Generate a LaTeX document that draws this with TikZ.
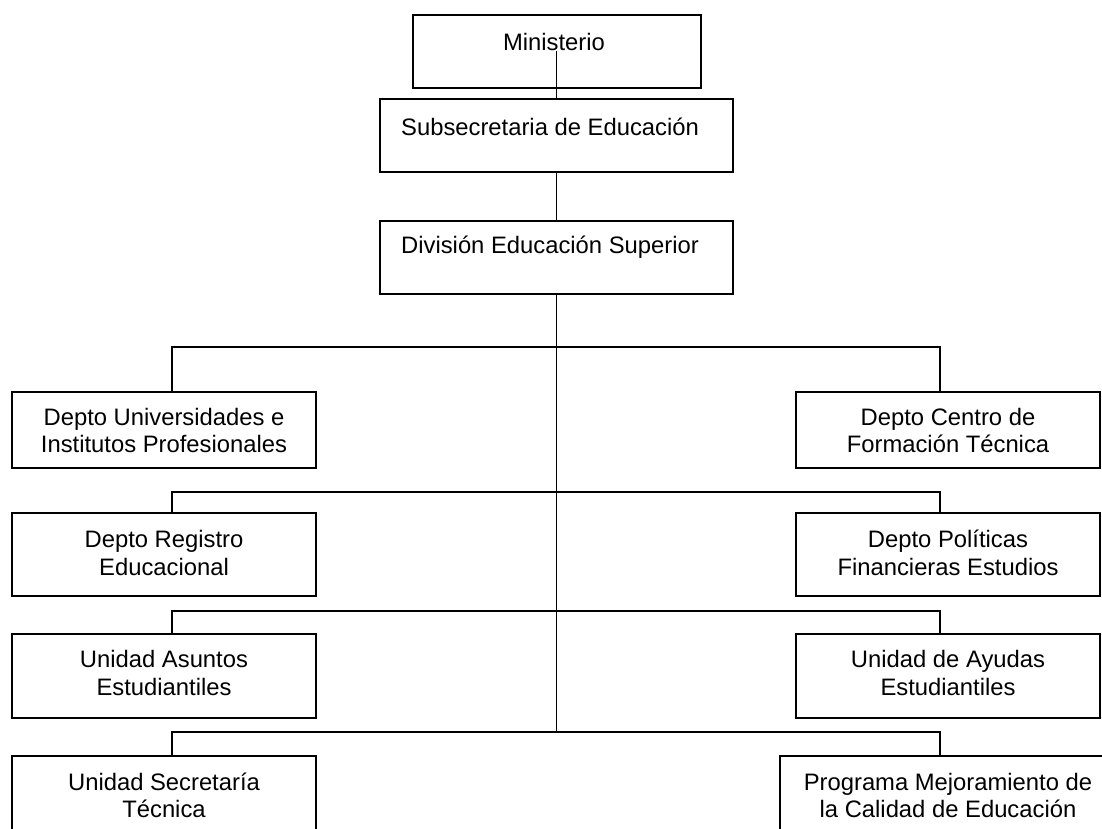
\documentclass[tikz,border=0pt]{standalone}
\usepackage{fontspec}
\setmainfont{Liberation Sans}
\begin{document}
\begin{tikzpicture}[x=1pt,y=-1pt,
  box/.style={draw=black, line width=1.8pt, rectangle, inner sep=0pt},
  lbl/.style={inner sep=0pt, align=center, font=\fontsize{23.8}{27.5}\selectfont},
  con/.style={draw=black, line width=1.8pt}]
\useasboundingbox[fill=white] (0,0) rectangle (1102,829);

% top chain
\node[box, minimum width=288, minimum height=73] (min) at (557,51.5) {};
\node[lbl] (mint) at (554,42) {Ministerio};
\node[box, minimum width=353, minimum height=73] (sub) at (556.5,135.5) {};
\node[lbl] (subt) at (550,127) {Subsecretaria de Educación};
\node[box, minimum width=353, minimum height=73] (div) at (556.5,257.5) {};
\node[lbl] (divt) at (550,247) {División Educación Superior};

% left column
\node[box, minimum width=304, minimum height=76] (l1) at (164,430) {};
\node[lbl] (l1t) at (164,430.5) {Depto Universidades e\\Institutos Profesionales};
\node[box, minimum width=304, minimum height=83] (l2) at (164,554.5) {};
\node[lbl] (l2t) at (164,553) {Depto Registro\\Educacional};
\node[box, minimum width=304, minimum height=84] (l3) at (164,676) {};
\node[lbl] (l3t) at (164,673) {Unidad Asuntos\\Estudiantiles};
\node[box, minimum width=304, minimum height=90] (l4) at (164,801) {};
\node[lbl] (l4t) at (164,795.5) {Unidad Secretaría\\Técnica};

% right column
\node[box, minimum width=304, minimum height=76] (r1) at (948,430) {};
\node[lbl] (r1t) at (948,430.5) {Depto Centro de\\Formación Técnica};
\node[box, minimum width=304, minimum height=83] (r2) at (948,554.5) {};
\node[lbl] (r2t) at (948,553) {Depto Políticas\\Financieras Estudios};
\node[box, minimum width=304, minimum height=84] (r3) at (948,676) {};
\node[lbl] (r3t) at (948,673) {Unidad de Ayudas\\Estudiantiles};
\node[box, minimum width=336, minimum height=90] (r4) at (948,801) {};
\node[lbl] (r4t) at (948,795.5) {Programa Mejoramiento de\\la Calidad de Educación};

% bus coordinates
\coordinate (a1) at (172,347); \coordinate (b1) at (940,347);
\coordinate (a2) at (172,492); \coordinate (b2) at (940,492);
\coordinate (a3) at (172,611); \coordinate (b3) at (940,611);
\coordinate (a4) at (172,732); \coordinate (b4) at (940,732);
\coordinate (m4) at (556.5,732);

% connectors
\draw[con] (sub.north |- mint.south) -- (sub.north);
\draw[con] (sub.south) -- (div.north);
\draw[con] (div.south) -- (m4);
\draw[con] (a1 |- l1.north) -- (a1) -- (b1) -- (b1 |- r1.north);
\draw[con] (a2 |- l2.north) -- (a2) -- (b2) -- (b2 |- r2.north);
\draw[con] (a3 |- l3.north) -- (a3) -- (b3) -- (b3 |- r3.north);
\draw[con] (a4 |- l4.north) -- (a4) -- (b4) -- (b4 |- r4.north);
\end{tikzpicture}
\end{document}
